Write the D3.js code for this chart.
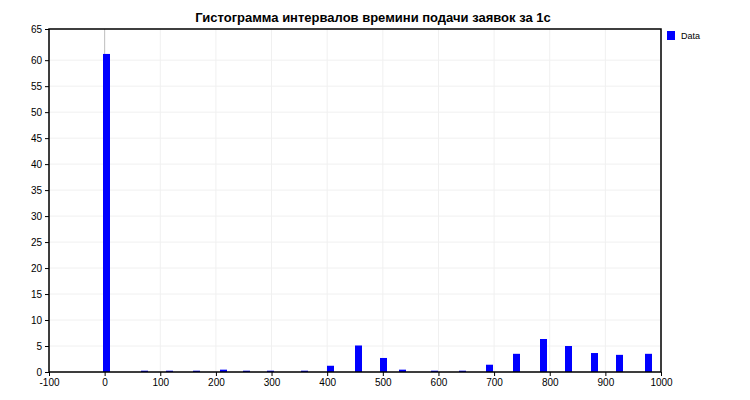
<!DOCTYPE html>
<html>
<head>
<meta charset="utf-8">
<script src="https://cdn.jsdelivr.net/npm/d3@7"></script>
<style>
  body { margin: 0; background: #fff; }
  svg text { font-family: "Liberation Sans", Arial, sans-serif; }
</style>
</head>
<body>
<svg id="chart"></svg>
<script>
// Histogram data: bin centre (ms) and height
const binCenters = [3, 72, 117, 165, 214, 255, 298, 359, 406, 457, 502, 536, 593, 644, 692, 741, 788, 833, 881, 926, 978];
const binValues = [61.2, 0.25, 0.25, 0.25, 0.45, 0.25, 0.25, 0.25, 1.2, 5.1, 2.7, 0.45, 0.25, 0.25, 1.4, 3.5, 6.35, 5.0, 3.65, 3.3, 3.5];
const xTicks = [-100, 0, 100, 200, 300, 400, 500, 600, 700, 800, 900, 1000];
const yTicks = [0, 5, 10, 15, 20, 25, 30, 35, 40, 45, 50, 55, 60];
const yTop = 66;

const data = binCenters.map((c, i) => ({ x: c, v: binValues[i] }));

const W = 750, H = 400;
const margin = { top: 29, right: 89, bottom: 28, left: 49 };
const width = W - margin.left - margin.right;
const height = H - margin.top - margin.bottom;

const svg = d3.select('#chart').attr('width', W).attr('height', H);

// title
svg.append('text')
    .attr('x', 373)
    .attr('y', 22)
    .attr('text-anchor', 'middle')
    .style('font-size', '13px')
    .style('font-weight', 'bold')
    .text('Гистограмма интервалов времини подачи заявок за 1с');

const g = svg.append('g').attr('transform', `translate(${margin.left},${margin.top})`);

const x = d3.scaleLinear().domain([-100, 1000]).range([0, width]);
const y = d3.scaleLinear().domain([0, yTop]).range([height, 0]);

// grid
g.selectAll('.vgrid').data(xTicks).enter().append('line')
    .attr('x1', d => x(d)).attr('x2', d => x(d))
    .attr('y1', 0).attr('y2', height)
    .attr('stroke', '#f0f0f0');
g.selectAll('.hgrid').data(yTicks).enter().append('line')
    .attr('x1', 0).attr('x2', width)
    .attr('y1', d => y(d)).attr('y2', d => y(d))
    .attr('stroke', '#f0f0f0');

// zero line
g.append('line')
    .attr('x1', x(0)).attr('x2', x(0))
    .attr('y1', 0).attr('y2', height)
    .attr('stroke', '#c0c0c0');

// bars
g.selectAll('.bar').data(data).enter().append('rect')
    .attr('x', d => Math.round(x(d.x) - 3.5))
    .attr('width', 7)
    .attr('y', d => y(d.v))
    .attr('height', d => height - y(d.v))
    .attr('fill', '#0000ff');

// axes
const xAxis = g.append('g')
    .attr('transform', `translate(0,${height})`)
    .call(d3.axisBottom(x).tickValues(xTicks).tickSize(4).tickPadding(3).tickFormat(d => String(d)));
const yAxis = g.append('g')
    .call(d3.axisLeft(y).tickValues(yTicks.concat([yTop])).tickSize(4).tickPadding(3)
        .tickFormat(d => d === yTop ? '65' : String(d)));
[xAxis, yAxis].forEach(a => {
    a.select('.domain').remove();
    a.selectAll('text').style('font-size', '10px').attr('fill', '#000');
    a.selectAll('line').attr('stroke', '#000');
});

// frame
g.append('rect')
    .attr('x', 0).attr('y', 0)
    .attr('width', width).attr('height', height)
    .attr('fill', 'none')
    .attr('stroke', '#000')
    .attr('stroke-width', 1.5);

// legend
svg.append('rect')
    .attr('x', 667).attr('y', 31)
    .attr('width', 8).attr('height', 9)
    .attr('fill', '#0000ff');
svg.append('text')
    .attr('x', 681).attr('y', 38.5)
    .style('font-size', '9px')
    .text('Data');
</script>
</body>
</html>
